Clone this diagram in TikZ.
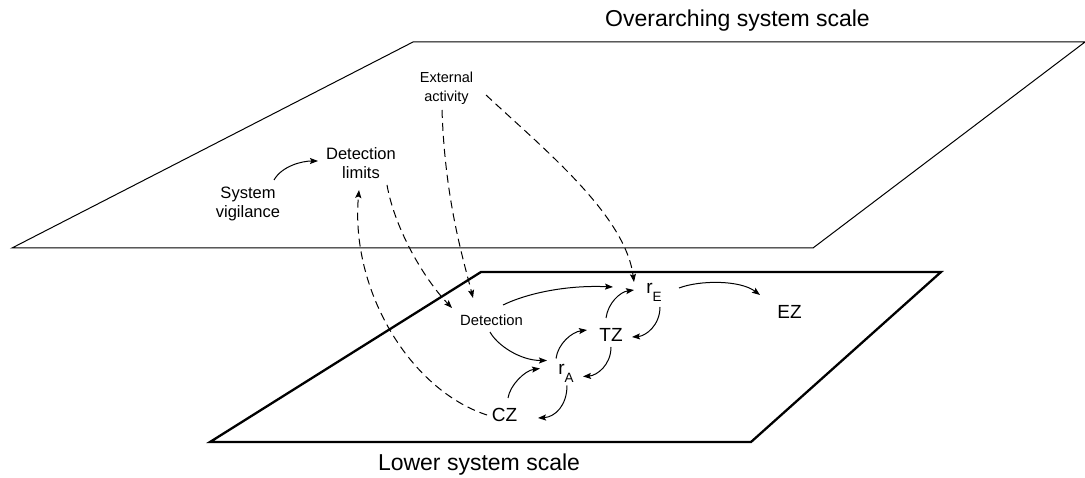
\documentclass[tikz,border=0pt]{standalone}
\usepackage{fontspec}
\setmainfont{Liberation Sans}
\usetikzlibrary{arrows.meta}
\newcommand{\fsz}[1]{\fontsize{#1}{#1}\selectfont}
\tikzset{
  plane/.style={draw=black, line width=1pt, line join=miter},
  lowplane/.style={draw=black, line width=2.3pt, line join=miter},
  lbl/.style={inner sep=0pt, outer sep=0pt, align=center, text=black},
  conn/.style={line width=1pt, -{Stealth[length=8pt,width=6pt,inset=1.5pt]}},
  dconn/.style={conn, dash pattern=on 8pt off 5pt},
}
\begin{document}
\begin{tikzpicture}[x=1pt,y=-1pt]
\useasboundingbox (0,0) rectangle (1085,478);
% planes
\draw[plane] (413,42) -- (1085,42) -- (813,248) -- (12,248) -- cycle;
\draw[lowplane] (481,272) -- (941,272) -- (751,442) -- (210,442) -- cycle;
% titles
\node[lbl, font=\fsz{23}] (top) at (737.5,21) {Overarching system scale};
\node[lbl, font=\fsz{23}] (low) at (479,465) {Lower system scale};
% upper nodes
\node[lbl, font=\fontsize{16.5}{18.5}\selectfont] (sv) at (248,204) {System\\vigilance};
\node[lbl, font=\fontsize{16.5}{18.5}\selectfont] (dl) at (361,163) {Detection\\limits};
\node[lbl, font=\fontsize{14.5}{18.5}\selectfont] (ea) at (446.5,88.5) {External\\activity};
% lower nodes
\node[lbl, font=\fsz{14.8}] (det) at (491.5,320.5) {Detection};
\node[lbl, font=\fsz{19}] (ra) at (566,373.5) {r\raisebox{-8.5pt}{\fsz{13.5}A}};
\node[lbl, font=\fsz{19}] (re) at (654,292.5) {r\raisebox{-8.5pt}{\fsz{13.5}E}};
\node[lbl, font=\fsz{19}] (tz) at (611,335) {TZ};
\node[lbl, font=\fsz{19}] (cz) at (504.5,415) {CZ};
\node[lbl, font=\fsz{19}] (ez) at (789.5,311.5) {EZ};
% solid connectors
\draw[conn] ([shift={(26,-24)}]sv.center) .. controls +(8,-14) and +(-16,0) .. ([shift={(-43,-2)}]dl.center);
\draw[conn] ([shift={(11.5,-15.5)}]det.center) .. controls +(27,-13) and +(-43,-2) .. ([shift={(-41,-5.5)}]re.center);
\draw[conn] ([shift={(-1.5,11.5)}]det.center) .. controls +(7,13) and +(-27,0) .. ([shift={(-19,-13)}]ra.center);
\draw[conn] ([shift={(3.5,-17)}]cz.center) .. controls +(2,-13) and +(-15,2) .. ([shift={(-26,-5)}]ra.center);
\draw[conn] ([shift={(1,12)}]ra.center) .. controls +(0,20) and +(17,-1) .. ([shift={(33.5,3)}]cz.center);
\draw[conn] ([shift={(-10,-15)}]ra.center) .. controls +(2,-15) and +(-15,2) .. ([shift={(-24,-5)}]tz.center);
\draw[conn] ([shift={(0,12)}]tz.center) .. controls +(0,18) and +(14,-1) .. ([shift={(17,3)}]ra.center);
\draw[conn] ([shift={(-5,-17)}]tz.center) .. controls +(2,-15) and +(-14,2) .. ([shift={(-20,-2.5)}]re.center);
\draw[conn] ([shift={(6,14.5)}]re.center) .. controls +(0,18) and +(14,-1) .. ([shift={(21,2)}]tz.center);
\draw[conn] ([shift={(25,-4.5)}]re.center) .. controls +(21,-8) and +(-20,-15) .. ([shift={(-29.5,-16.5)}]ez.center);
% dashed connectors
\draw[dconn] ([shift={(-4.5,21.5)}]ea.center) .. controls +(3,90) and +(-10,-40) .. ([shift={(-18.5,-22.5)}]det.center);
\draw[dconn] ([shift={(39.5,6.5)}]ea.center) .. controls +(59,55) and +(-9,-67) .. ([shift={(-20,-10.5)}]re.center);
\draw[dconn] ([shift={(26,22)}]dl.center) .. controls +(8,45) and +(-27,-28) .. ([shift={(-39.5,-12.5)}]det.center);
\draw[dconn] ([shift={(-17.5,0)}]cz.center) .. controls +(-77,-25) and +(-9,100) .. ([shift={(-2,27)}]dl.center);
\end{tikzpicture}
\end{document}
